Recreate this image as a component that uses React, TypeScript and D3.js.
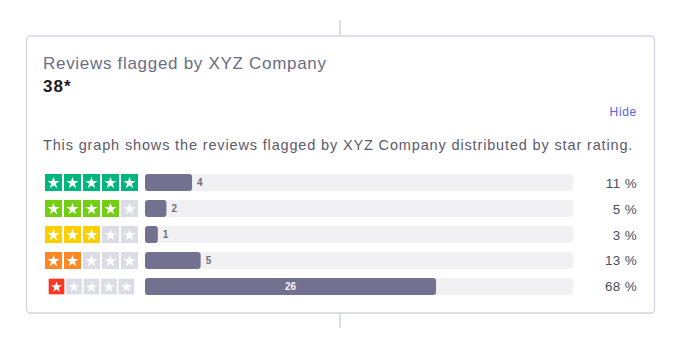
import React from "react";
import * as d3 from "d3";

const starLevels = [5, 4, 3, 2, 1];
const counts = [4, 2, 1, 5, 26];
const percents = [11, 5, 3, 13, 68];
const starColors = ["#00b67a", "#73cf11", "#ffce00", "#ff8622", "#ff3722"];
const title = "Reviews flagged by XYZ Company";
const totalLabel = "38*";
const description =
  "This graph shows the reviews flagged by XYZ Company distributed by star rating.";

const W = 686;
const H = 351;

export default function App() {
  const y = d3
    .scaleBand<number>()
    .domain(d3.range(counts.length))
    .range([174, 295])
    .paddingInner(0.346)
    .paddingOuter(0);
  const x = d3.scaleLinear().domain([0, 100]).range([145, 573]);
  const starX = d3.scaleLinear().domain([0, 1]).range([45, 64]);
  const bh = y.bandwidth();
  const starPath = d3.symbol().type(d3.symbolStar).size(46)() as string;
  const font = "'Liberation Sans', Arial, Helvetica, sans-serif";

  return (
    <svg
      width={W}
      height={H}
      style={{ position: "absolute", left: 0, top: 0, background: "#fff" }}
      fontFamily={font}
    >
      <line x1={340} x2={340} y1={20} y2={36} stroke="#d3d3e0" strokeWidth={1.5} />
      <line x1={340} x2={340} y1={313} y2={328} stroke="#d3d3e0" strokeWidth={1.5} />
      <rect x={26.5} y={37} width={628} height={277} rx={4} fill="#e4e4ec" />
      <rect
        x={26.5}
        y={36}
        width={628}
        height={277}
        rx={4}
        fill="#fff"
        stroke="#d6d6e2"
        strokeWidth={1.3}
      />
      <text x={43} y={69} fontSize={17} letterSpacing={0.7} fill="#6a6d85">
        {title}
      </text>
      <text x={43} y={92} fontSize={17} letterSpacing={1} fontWeight="bold" fill="#1b1b24">
        {totalLabel}
      </text>
      <text
        x={637}
        y={116}
        fontSize={12}
        letterSpacing={0.7}
        textAnchor="end"
        fill="#5862ee"
        fontWeight={500}
      >
        Hide
      </text>
      <text x={43} y={150} fontSize={14.5} letterSpacing={0.85} fill="#5a5a6e">
        {description}
      </text>
      {counts.map((c, i) => {
        const top = y(i) as number;
        const level = starLevels[i];
        const scale = i === counts.length - 1 ? 0.92 : 1;
        const cx = 91;
        const cy = top + bh / 2;
        const inside = percents[i] > 30;
        return (
          <g key={i}>
            <g transform={`translate(${cx},${cy}) scale(${scale}) translate(${-cx},${-cy})`}>
              {d3.range(5).map((k) => (
                <g key={k}>
                  <rect
                    x={starX(k)}
                    y={top}
                    width={17}
                    height={bh}
                    fill={k < level ? starColors[i] : "#dcdce6"}
                  />
                  <path
                    d={starPath}
                    transform={`translate(${starX(k) + 8.5},${top + bh / 2 + 0.6})`}
                    fill="#fff"
                  />
                </g>
              ))}
            </g>
            <rect x={x(0)} y={top} width={x(100) - x(0)} height={bh} rx={3} fill="#f1f1f4" />
            <rect x={x(0)} y={top} width={x(percents[i]) - x(0)} height={bh} rx={3} fill="#727190" />
            <text
              x={inside ? (x(0) + x(percents[i])) / 2 : x(percents[i]) + 5}
              y={top + bh / 2 + 3.5}
              fontSize={10}
              fontWeight="bold"
              textAnchor={inside ? "middle" : "start"}
              fill={inside ? "#f4f4f8" : "#6e6e86"}
            >
              {c}
            </text>
            <text
              x={637}
              y={top + bh / 2 + 5}
              fontSize={13.4}
              letterSpacing={0.4}
              textAnchor="end"
              fill="#4c4c5e"
            >
              {`${percents[i]} %`}
            </text>
          </g>
        );
      })}
    </svg>
  );
}
